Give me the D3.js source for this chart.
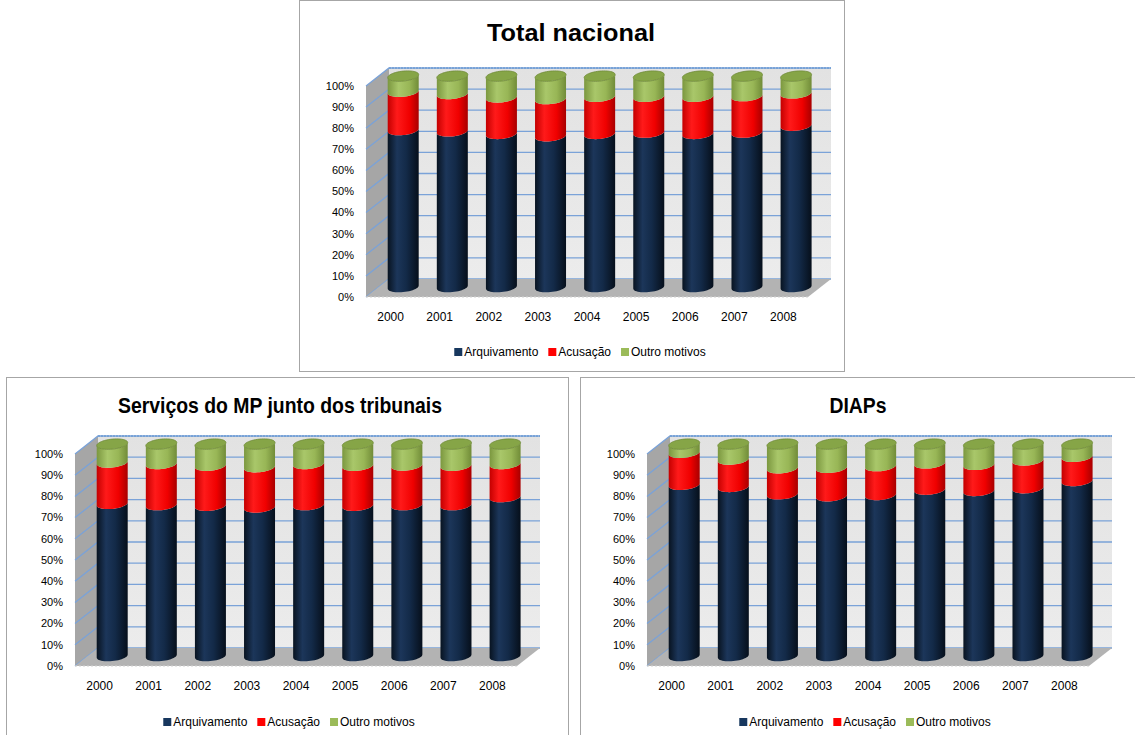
<!DOCTYPE html>
<html>
<head>
<meta charset="utf-8">
<script src="https://cdn.jsdelivr.net/npm/d3@7"></script>
<style>
body { margin: 0; background: #fff; }
svg { display: block; font-family: "Liberation Sans", Arial, sans-serif; }
</style>
</head>
<body>
<svg id="chart" width="1135" height="735"></svg>
<script>
let years = ["2000", "2001", "2002", "2003", "2004", "2005", "2006", "2007", "2008"];
let seriesNames = ["Arquivamento", "Acusação", "Outro motivos"];
let yTicks = [0, 10, 20, 30, 40, 50, 60, 70, 80, 90, 100];

// Total nacional (%)
let totalArquivamento = [74.4, 73.8, 72.6, 71.5, 72.6, 73.2, 72.6, 73.2, 76.5];
let totalAcusacao     = [18.2, 17.7, 17.3, 17.6, 17.6, 17.0, 17.6, 17.3, 15.3];
let totalOutros       = [7.4, 8.5, 10.1, 10.9, 9.8, 9.8, 9.8, 9.5, 8.2];

// Serviços do MP junto dos tribunais (%)
let servArquivamento = [71.8, 71.2, 70.9, 70.1, 71.2, 70.9, 71.2, 71.2, 75.0];
let servAcusacao     = [19.5, 19.4, 18.9, 19.0, 19.4, 18.9, 18.7, 18.6, 15.6];
let servOutros       = [8.7, 9.4, 10.2, 10.9, 9.4, 10.2, 10.1, 10.2, 9.4];

// DIAPs (%)
let diapArquivamento = [80.8, 79.8, 76.3, 75.4, 76.0, 78.5, 77.9, 79.2, 82.6];
let diapAcusacao     = [15.1, 12.9, 12.3, 13.4, 13.6, 12.4, 12.3, 13.1, 11.4];
let diapOutros       = [4.1, 7.3, 11.4, 11.2, 10.4, 9.1, 9.8, 7.7, 6.0];

let svg = d3.select("#chart");
let defs = svg.append("defs");

// cylinder shading
let shades = [
  {id: "gNavy", stops: [[0, "#081320"], [0.3, "#1c365a"], [0.6, "#132a48"], [1, "#060f1b"]]},
  {id: "gRed", stops: [[0, "#c40000"], [0.3, "#ff1a1a"], [0.7, "#f00000"], [1, "#a80000"]]},
  {id: "gGreen", stops: [[0, "#7b973f"], [0.35, "#a9c76a"], [0.7, "#98b656"], [1, "#718c38"]]}
];
shades.forEach(s => {
  let lg = defs.append("linearGradient").attr("id", s.id)
    .attr("x1", 0).attr("x2", 1).attr("y1", 0).attr("y2", 0);
  s.stops.forEach(st => lg.append("stop").attr("offset", st[0]).attr("stop-color", st[1]));
});
let wall = defs.append("linearGradient").attr("id", "gWall")
  .attr("x1", 0).attr("x2", 0).attr("y1", 0).attr("y2", 1);
wall.append("stop").attr("offset", 0).attr("stop-color", "#e2e2e2");
wall.append("stop").attr("offset", 1).attr("stop-color", "#ececec");

let fills = ["url(#gNavy)", "url(#gRed)", "url(#gGreen)"];
let legendColors = ["#17375e", "#ff0000", "#9bbb59"];

let dx = 23, dy = -18, depth = 0.55;
let rx = 15.5, ry = 5, tilt = -1.5;

let charts = [
  {title: "Total nacional", series: [totalArquivamento, totalAcusacao, totalOutros],
   x0: 366, x1: 808, yb: 297, yt: 86, titleX: 571, titleY: 41, titleSize: 24, titleLen: 168,
   yearY: 321, legendY: 352, legendX: 580, panel: [299.5, 0.5, 545, 371]},
  {title: "Serviços do MP junto dos tribunais", series: [servArquivamento, servAcusacao, servOutros],
   x0: 75, x1: 517, yb: 666, yt: 454, titleX: 280, titleY: 413, titleSize: 22, titleLen: 324,
   yearY: 690, legendY: 722, legendX: 289, panel: [6.5, 377.5, 562, 362]},
  {title: "DIAPs", series: [diapArquivamento, diapAcusacao, diapOutros],
   x0: 647, x1: 1089, yb: 666, yt: 454, titleX: 858, titleY: 413, titleSize: 22, titleLen: 57,
   yearY: 690, legendY: 722, legendX: 865, panel: [580.5, 377.5, 560, 362]}
];

let line = d3.line();

function ellipsePts(cx, cy, from, to, n) {
  return d3.range(n + 1).map(i => {
    let t = from + (to - from) * i / n;
    return [cx + rx * Math.cos(t), cy + ry * Math.sin(t) + tilt * Math.cos(t)];
  });
}

function drawChart(c) {
  let g = svg.append("g");

  g.append("rect").attr("x", c.panel[0]).attr("y", c.panel[1])
    .attr("width", c.panel[2]).attr("height", c.panel[3])
    .attr("fill", "#fff").attr("stroke", "#a6a6a6");

  let x = d3.scaleBand().domain(years).range([c.x0, c.x1]);
  let y = d3.scaleLinear().domain([0, 100]).range([c.yb, c.yt]);

  // back wall
  g.append("rect").attr("x", c.x0 + dx).attr("y", y(100) + dy)
    .attr("width", c.x1 - c.x0).attr("height", y(0) - y(100))
    .attr("fill", "url(#gWall)");
  // side wall
  g.append("polygon")
    .attr("points", [[c.x0, y(0)], [c.x0 + dx, y(0) + dy], [c.x0 + dx, y(100) + dy], [c.x0, y(100)]].join(" "))
    .attr("fill", "#a6a6a6");

  // gridlines
  g.selectAll(".grid").data(yTicks).enter().append("path")
    .attr("d", d => line([[c.x0, y(d)], [c.x0 + dx, y(d) + dy], [c.x1 + dx, y(d) + dy]]))
    .attr("fill", "none").attr("stroke", "#7aa2d8").attr("stroke-width", 1.3);
  g.append("line").attr("x1", c.x0 + dx).attr("x2", c.x1 + dx)
    .attr("y1", y(100) + dy).attr("y2", y(100) + dy)
    .attr("stroke", "#5b8fd0").attr("stroke-dasharray", "2,1");

  // floor
  g.append("polygon")
    .attr("points", [[c.x0, y(0)], [c.x1, y(0)], [c.x1 + dx, y(0) + dy], [c.x0 + dx, y(0) + dy]].join(" "))
    .attr("fill", "#b3b3b3");
  g.append("line").attr("x1", c.x0).attr("x2", c.x1).attr("y1", y(0)).attr("y2", y(0))
    .attr("stroke", "#d0d0d0").attr("stroke-dasharray", "2,2");

  // cylinders
  years.forEach((yr, i) => {
    let cx = x(yr) + x.bandwidth() / 2 + dx * depth;
    let cum = 0;
    c.series.forEach((s, k) => {
      let lo = y(cum) + dy * depth;
      cum += s[i];
      let hi = y(cum) + dy * depth;
      let pts = ellipsePts(cx, lo, Math.PI, 0, 24).concat(ellipsePts(cx, hi, 0, Math.PI, 24));
      g.append("path").attr("d", line(pts) + "Z").attr("fill", fills[k]);
      if (k === c.series.length - 1) {
        g.append("path").attr("d", line(ellipsePts(cx, hi, 0, 2 * Math.PI, 48)) + "Z")
          .attr("fill", "#86a547").attr("stroke", "#6f8a37").attr("stroke-width", 0.8);
      }
    });
  });

  // y tick labels
  g.selectAll(".ytick").data(yTicks).enter().append("text")
    .attr("x", c.x0 - 12).attr("y", d => y(d)).attr("dy", "0.35em")
    .attr("text-anchor", "end").attr("font-size", 11).attr("fill", "#000")
    .text(d => d + "%");

  // year labels
  g.selectAll(".xtick").data(years).enter().append("text")
    .attr("x", d => x(d) + x.bandwidth() / 2).attr("y", c.yearY)
    .attr("text-anchor", "middle").attr("font-size", 12).attr("fill", "#000")
    .text(d => d);

  // title
  g.append("text").attr("x", c.titleX).attr("y", c.titleY)
    .attr("text-anchor", "middle").attr("font-size", c.titleSize).attr("font-weight", "bold")
    .attr("textLength", c.titleLen).attr("lengthAdjust", "spacingAndGlyphs")
    .text(c.title);

  // legend
  let lg = g.append("g");
  let cursor = 0;
  seriesNames.forEach((n, k) => {
    lg.append("rect").attr("x", cursor).attr("y", c.legendY - 4)
      .attr("width", 8).attr("height", 8).attr("fill", legendColors[k]);
    let t = lg.append("text").attr("x", cursor + 10).attr("y", c.legendY).attr("dy", "0.35em")
      .attr("font-size", 12).attr("fill", "#000").text(n);
    cursor += 10 + t.node().getComputedTextLength() + 10;
  });
  let w = cursor - 10;
  lg.attr("transform", "translate(" + (c.legendX - w / 2) + ",0)");
}

charts.forEach(drawChart);
</script>
</body>
</html>
